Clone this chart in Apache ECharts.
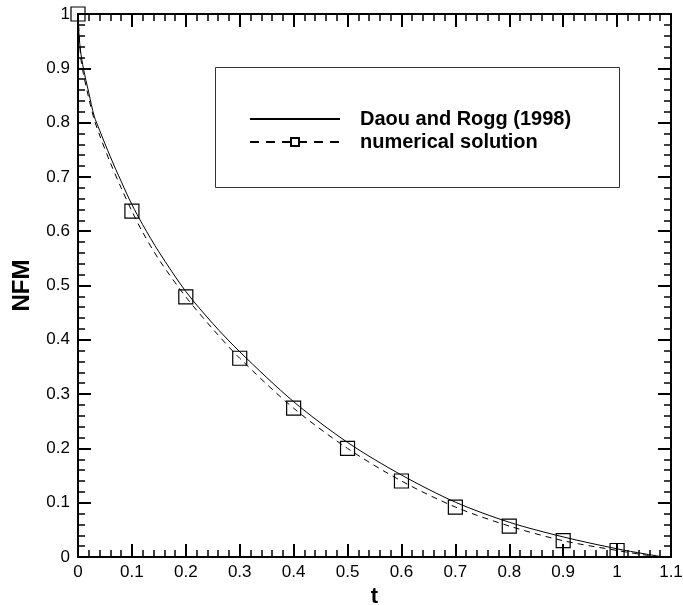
<!DOCTYPE html>
<html>
<head>
<meta charset="utf-8">
<script src="https://cdn.jsdelivr.net/npm/echarts@6/dist/echarts.min.js"></script>
<style>html,body{margin:0;padding:0;background:#fff;}#c{width:683px;height:605px;}</style>
</head>
<body>
<div id="c"></div>
<script>
// Analytical curve (Daou and Rogg, 1998)
var daouT   = [0, 0.002, 0.005, 0.01, 0.02, 0.03, 0.04, 0.05, 0.06, 0.07, 0.08, 0.09, 0.1, 0.12, 0.15, 0.2, 0.25, 0.3, 0.4, 0.5, 0.6, 0.7, 0.8, 0.9, 1.0, 1.05, 1.08];
var daouNFM = [1.0, 0.96, 0.93, 0.90, 0.855, 0.812, 0.786, 0.761, 0.737, 0.714, 0.692, 0.67, 0.649, 0.612, 0.562, 0.489, 0.43, 0.378, 0.286, 0.211, 0.151, 0.101, 0.064, 0.037, 0.015, 0.006, 0.001];
// Numerical solution (dashed line)
var numT    = [0, 0.005, 0.01, 0.02, 0.03, 0.04, 0.06, 0.08, 0.1, 0.12, 0.15, 0.2, 0.25, 0.3, 0.4, 0.5, 0.6, 0.7, 0.8, 0.9, 1.0, 1.05, 1.08];
var numNFM  = [1.0, 0.92, 0.89, 0.845, 0.806, 0.777, 0.726, 0.68, 0.637, 0.598, 0.548, 0.479, 0.42, 0.366, 0.274, 0.2, 0.14, 0.092, 0.057, 0.03, 0.012, 0.004, 0.0];
// Marker positions (squares)
var markT   = [0, 0.1, 0.2, 0.3, 0.4, 0.5, 0.6, 0.7, 0.8, 0.9, 1.0];
// Tick labels
var xTickLabels = ['0','0.1','0.2','0.3','0.4','0.5','0.6','0.7','0.8','0.9','1','1.1'];
var yTickLabels = ['0','0.1','0.2','0.3','0.4','0.5','0.6','0.7','0.8','0.9','1'];
var seriesNames = ['Daou and Rogg (1998)', 'numerical solution'];

function isMark(t){ for (var i=0;i<markT.length;i++){ if (Math.abs(markT[i]-t)<1e-9) return true; } return false; }

var daouData = daouT.map(function(t,i){ return [t, daouNFM[i]]; });
var numData = numT.map(function(t,i){
  var item = { value: [t, numNFM[i]] };
  if (!isMark(t)) item.symbol = 'none';
  return item;
});

var font = 'Liberation Sans, Arial, Helvetica, sans-serif';
var axisLineStyle = { color: '#000', width: 2 };

function xAxisCfg(pos, showLabel){
  return {
    type: 'value', position: pos, min: 0, max: 1.1, interval: 0.1,
    name: showLabel ? 't' : '', nameLocation: 'middle', nameGap: 27,
    nameTextStyle: { fontFamily: font, fontSize: 22, fontWeight: 'bold', color: '#000' },
    axisLine: { show: true, onZero: false, lineStyle: axisLineStyle },
    axisTick: { show: true, inside: true, length: 13, lineStyle: { color: '#000', width: 2 } },
    minorTick: { show: true, splitNumber: 5, length: 7, lineStyle: { color: '#000', width: 1.5 } },
    axisLabel: { show: showLabel, margin: 7, fontFamily: font, fontSize: 17, color: '#000',
      formatter: function(v){ return xTickLabels[Math.round(v*10)]; } },
    splitLine: { show: false }
  };
}
function yAxisCfg(pos, showLabel){
  return {
    type: 'value', position: pos, min: 0, max: 1, interval: 0.1,
    name: showLabel ? 'NFM' : '', nameLocation: 'middle', nameGap: 44,
    nameTextStyle: { fontFamily: font, fontSize: 24, fontWeight: 'bold', color: '#000' },
    axisLine: { show: true, onZero: false, lineStyle: axisLineStyle },
    axisTick: { show: true, inside: true, length: 13, lineStyle: { color: '#000', width: 2 } },
    minorTick: { show: true, splitNumber: 5, length: 7, lineStyle: { color: '#000', width: 1.5 } },
    axisLabel: { show: showLabel, margin: 8, fontFamily: font, fontSize: 17, color: '#000',
      formatter: function(v){ return yTickLabels[Math.round(v*10)]; } },
    splitLine: { show: false }
  };
}

var chart = echarts.init(document.getElementById('c'), null, { renderer: 'canvas' });
chart.setOption({
  backgroundColor: '#fff',
  animation: false,
  grid: { left: 78, right: 12, top: 14, bottom: 48, containLabel: false, outerBoundsMode: 'none' },
  xAxis: [xAxisCfg('bottom', true), xAxisCfg('top', false)],
  yAxis: [yAxisCfg('left', true), yAxisCfg('right', false)],
  graphic: [{
    type: 'rect', left: 215, top: 67, z: 0,
    shape: { width: 404, height: 120 },
    style: { fill: '#fff', stroke: '#333', lineWidth: 1 }
  }],
  legend: {
    orient: 'vertical', left: 249, top: 109, itemWidth: 90, itemHeight: 10, itemGap: 3,
    padding: 0,
    textStyle: { fontFamily: font, fontSize: 20, fontWeight: 'bold', color: '#000', lineHeight: 20, padding: [0,0,0,15] },
    data: [
      { name: seriesNames[0] },
      { name: seriesNames[1], lineStyle: { type: [9, 7] } }
    ],
    z: 5
  },
  series: [
    {
      name: seriesNames[0], type: 'line', data: daouData, smooth: 0.3, clip: false,
      symbol: 'circle', symbolSize: 0, showSymbol: false,
      lineStyle: { color: '#000', width: 1 }, itemStyle: { color: 'rgba(0,0,0,0)', borderColor: 'rgba(0,0,0,0)' }
    },
    {
      name: seriesNames[1], type: 'line', data: numData, smooth: 0.3, clip: false,
      symbol: 'rect', symbolSize: 14, showSymbol: true, showAllSymbol: true,
      lineStyle: { color: '#000', width: 1, type: [6, 5] },
      itemStyle: { color: 'rgba(255,255,255,0)', borderColor: '#000', borderWidth: 1.2 }
    }
  ]
});
</script>
</body>
</html>
